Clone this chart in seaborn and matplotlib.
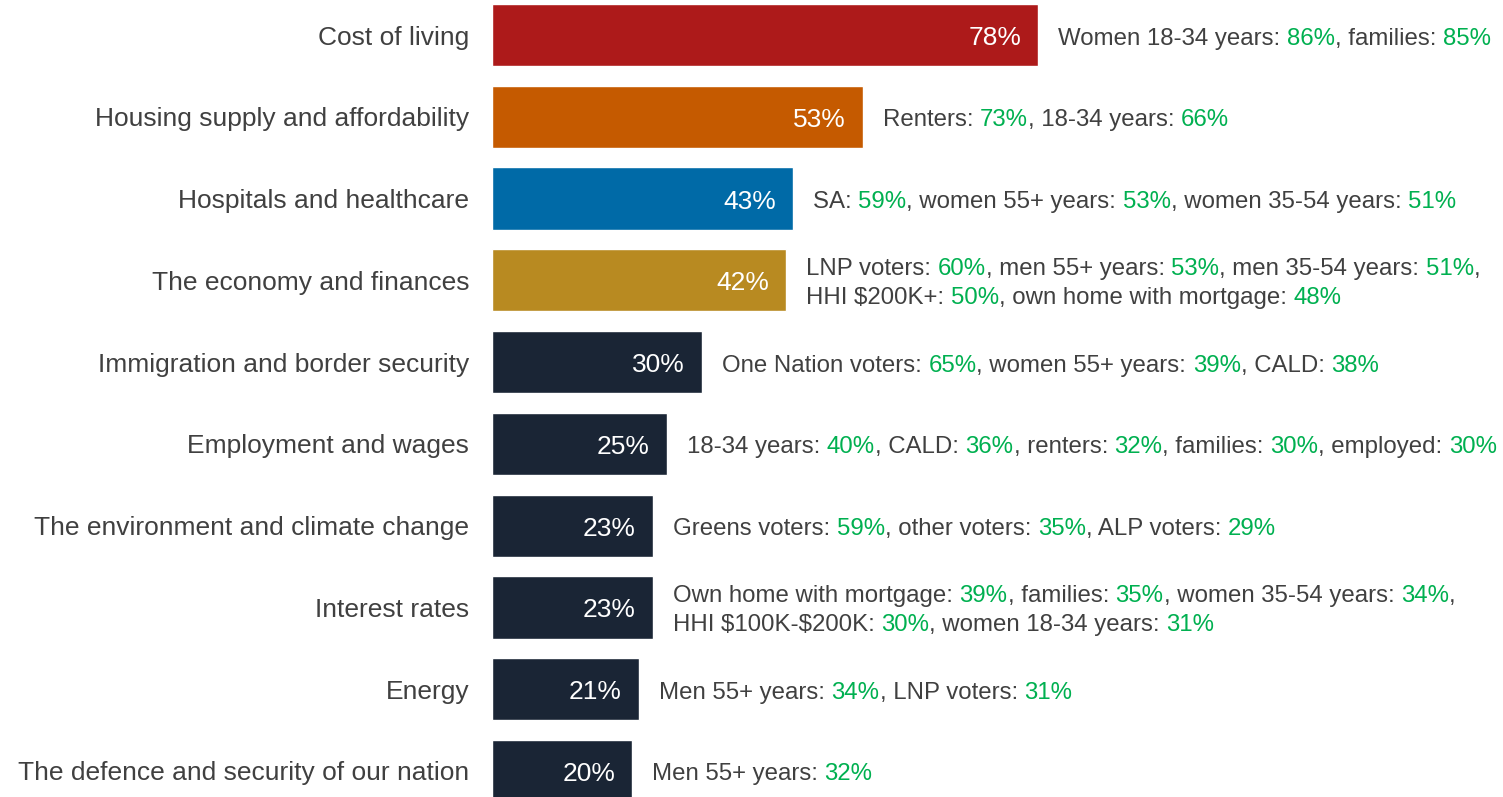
import re
import matplotlib
matplotlib.use("Agg")
import matplotlib.pyplot as plt
import seaborn as sns

# Data
categories = [
    "Cost of living",
    "Housing supply and affordability",
    "Hospitals and healthcare",
    "The economy and finances",
    "Immigration and border security",
    "Employment and wages",
    "The environment and climate change",
    "Interest rates",
    "Energy",
    "The defence and security of our nation",
]
values = [78, 53, 43, 42, 30, 25, 23, 23, 21, 20]
bar_colors = ["#AD1A1A", "#C55A00", "#006AA7", "#B88A21"] + ["#1A2535"] * 6
notes = [
    "Women 18-34 years: 86%, families: 85%",
    "Renters: 73%, 18-34 years: 66%",
    "SA: 59%, women 55+ years: 53%, women 35-54 years: 51%",
    "LNP voters: 60%, men 55+ years: 53%, men 35-54 years: 51%,\nHHI $200K+: 50%, own home with mortgage: 48%",
    "One Nation voters: 65%, women 55+ years: 39%, CALD: 38%",
    "18-34 years: 40%, CALD: 36%, renters: 32%, families: 30%, employed: 30%",
    "Greens voters: 59%, other voters: 35%, ALP voters: 29%",
    "Own home with mortgage: 39%, families: 35%, women 35-54 years: 34%,\nHHI $100K-$200K: 30%, women 18-34 years: 31%",
    "Men 55+ years: 34%, LNP voters: 31%",
    "Men 55+ years: 32%",
]

GREY = "#404040"
GREEN = "#00B050"

sns.set_style("white")
plt.rcParams["font.family"] = ["Liberation Sans", "DejaVu Sans"]

W, H = 1503, 797
fig = plt.figure(figsize=(W / 100, H / 100), dpi=100)
left = 492
ax = fig.add_axes([left / W, 0, (W - left) / W, 1])

sns.barplot(x=values, y=categories, hue=categories, palette=bar_colors,
            legend=False, width=0.76, orient="h", saturation=1, ax=ax)

ax.set_xlim(0, (W - left) / 7.0)
ax.set_ylim(9.318, -0.428)
sns.despine(ax=ax, left=True, bottom=True)
ax.set_xticks([])
ax.set_xlabel("")
ax.set_ylabel("")
ax.tick_params(axis="y", length=0, pad=16.5, labelsize=19, labelcolor=GREY)

for i, (v, note) in enumerate(zip(values, notes)):
    # value inside the bar
    ax.annotate(f"{v}%", xy=(v, i), xytext=(-17, -3), textcoords="offset pixels",
                ha="right", va="center", color="white", fontsize=19)
    # coloured breakdown text to the right
    lines = note.split("\n")
    n = len(lines)
    for k, line in enumerate(lines):
        dy = -(k - (n - 1) / 2) * 29 - 3.5
        parts = [p for p in re.split(r"(\d+%)", line) if p]
        prev = None
        for p in parts:
            col = GREEN if re.fullmatch(r"\d+%", p) else GREY
            if prev is None:
                prev = ax.annotate(p, xy=(v, i), xytext=(20, dy),
                                   textcoords="offset pixels", ha="left",
                                   va="center", color=col, fontsize=17.3,
                                   parse_math=False)
            else:
                prev = ax.annotate(p, xy=(1, 0.5), xycoords=prev, ha="left",
                                   va="center", color=col, fontsize=17.3,
                                   parse_math=False)

fig.savefig("out.png", dpi=100)
